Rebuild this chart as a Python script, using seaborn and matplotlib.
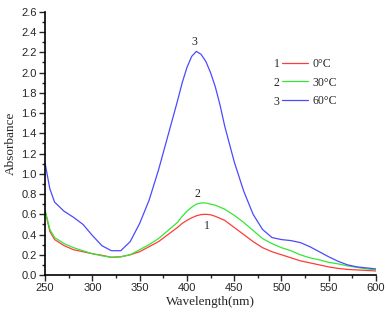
import seaborn as sns
import matplotlib.pyplot as plt
import pandas as pd
from matplotlib.ticker import MultipleLocator

# Wavelength grid (nm)
wavelength = [250, 255, 260, 270, 280, 290, 300, 310, 320, 330, 340, 350, 360,
              370, 380, 390, 395, 400, 405, 410, 415, 420, 425, 430, 435, 440,
              450, 460, 470, 480, 490, 500, 510, 520, 530, 540, 550, 560, 570,
              580, 590, 600]

# Absorbance
abs_0c = [0.63, 0.43, 0.35, 0.29, 0.25, 0.23, 0.21, 0.195, 0.175, 0.18, 0.20,
          0.23, 0.28, 0.33, 0.40, 0.47, 0.51, 0.54, 0.565, 0.585, 0.597, 0.60,
          0.595, 0.58, 0.56, 0.54, 0.47, 0.40, 0.33, 0.27, 0.23, 0.20, 0.17,
          0.14, 0.12, 0.10, 0.08, 0.065, 0.055, 0.05, 0.045, 0.04]
abs_30c = [0.64, 0.45, 0.37, 0.31, 0.27, 0.24, 0.21, 0.19, 0.175, 0.18, 0.20,
           0.25, 0.30, 0.36, 0.44, 0.52, 0.58, 0.63, 0.67, 0.70, 0.712, 0.712,
           0.70, 0.69, 0.67, 0.65, 0.59, 0.52, 0.44, 0.36, 0.31, 0.27, 0.24,
           0.20, 0.17, 0.15, 0.125, 0.11, 0.09, 0.075, 0.06, 0.05]
abs_60c = [1.10, 0.85, 0.72, 0.63, 0.57, 0.50, 0.39, 0.29, 0.24, 0.24, 0.33,
           0.51, 0.74, 1.04, 1.38, 1.72, 1.90, 2.05, 2.16, 2.21, 2.18, 2.11,
           2.00, 1.86, 1.68, 1.47, 1.12, 0.83, 0.60, 0.45, 0.37, 0.35, 0.34,
           0.32, 0.28, 0.23, 0.18, 0.135, 0.10, 0.08, 0.07, 0.06]

labels = ["0°C", "30°C", "60°C"]
numbers = ["1", "2", "3"]
colors = ["#ff3b3b", "#33e833", "#4a4aff"]

df = pd.DataFrame({
    "Wavelength": wavelength * 3,
    "Absorbance": abs_0c + abs_30c + abs_60c,
    "Temp": [labels[0]] * len(wavelength) + [labels[1]] * len(wavelength)
            + [labels[2]] * len(wavelength),
})

sns.set_style("ticks")
serif = "Liberation Serif"
sans = "Liberation Sans"

fig = plt.figure(figsize=(3.86, 3.17), dpi=100)
ax = fig.add_axes([0.117, 0.1325, 0.857, 0.83])

sns.lineplot(data=df, x="Wavelength", y="Absorbance", hue="Temp",
             palette=colors, linewidth=0.9, ax=ax, legend=False)

ax.set_xlim(250, 600)
ax.set_ylim(0, 2.6)
ax.xaxis.set_major_locator(MultipleLocator(50))
ax.xaxis.set_minor_locator(MultipleLocator(25))
ax.yaxis.set_major_locator(MultipleLocator(0.2))
ax.yaxis.set_minor_locator(MultipleLocator(0.1))
ax.yaxis.set_major_formatter(plt.FuncFormatter(lambda v, p: f"{v:.1f}"))
ax.tick_params(which="major", direction="out", length=4, width=1,
               labelsize=8, pad=2)
ax.tick_params(which="minor", direction="out", length=2, width=1)
for lab in ax.get_xticklabels() + ax.get_yticklabels():
    lab.set_fontfamily(sans)
sns.despine(ax=ax)
for sp in ("left", "bottom"):
    ax.spines[sp].set_linewidth(1.2)
    ax.spines[sp].set_color("black")

ax.set_xlabel("Wavelength(nm)", fontfamily=serif, fontsize=9.5, labelpad=2)
ax.set_ylabel("Absorbance", fontfamily=serif, fontsize=9.5, labelpad=3)

# Curve number labels
ax.text(408, 2.30, "3", fontfamily=serif, fontsize=8.5, ha="center", va="center")
ax.text(411, 0.80, "2", fontfamily=serif, fontsize=8.5, ha="center", va="center")
ax.text(421, 0.48, "1", fontfamily=serif, fontsize=8.5, ha="center", va="center")

# Legend
handles = [plt.Line2D([], [], color=c, linewidth=0.9) for c in colors]
ax.legend(handles, labels, loc="upper left", bbox_to_anchor=(0.715, 0.826),
          frameon=False, handlelength=2.2, handletextpad=0.4,
          labelspacing=0.58, borderpad=0, borderaxespad=0,
          prop={"family": serif, "size": 8.5})
for i, n in enumerate(numbers):
    ax.text(0.70, 0.802 - i * 0.072, n, transform=ax.transAxes,
            fontfamily=serif, fontsize=8.5, ha="center", va="center")

fig.savefig("out.png", dpi=100)
